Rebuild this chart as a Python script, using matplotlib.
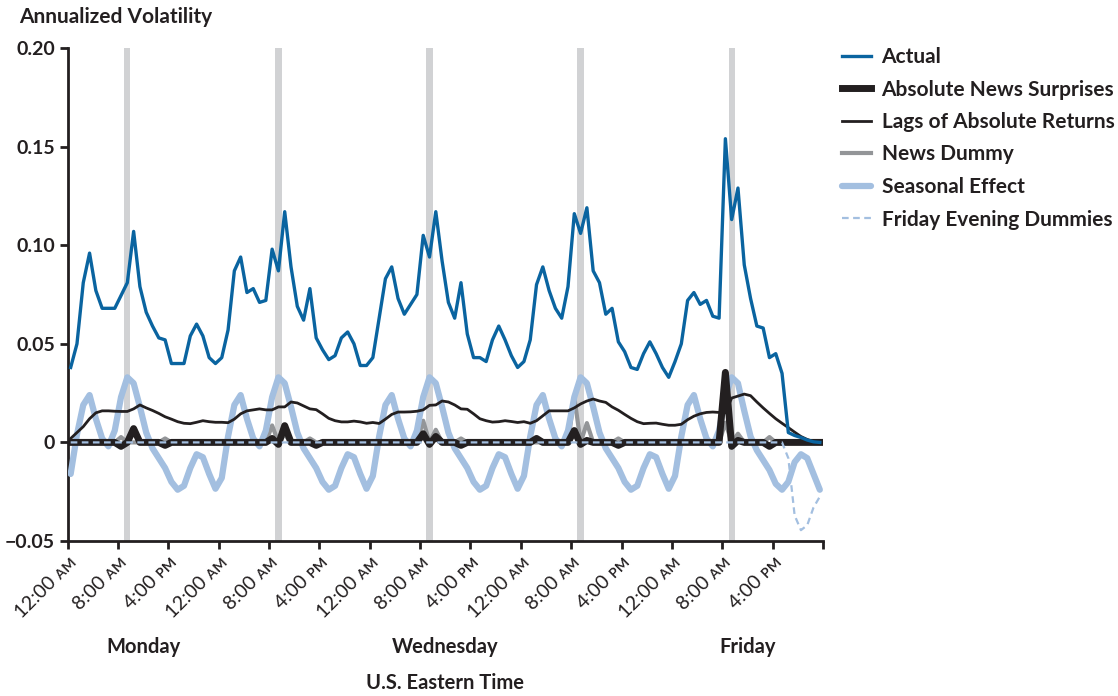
import numpy as np
import matplotlib
matplotlib.use('Agg')
import matplotlib.pyplot as plt

plt.rcParams['font.family'] = ['Lato', 'DejaVu Sans']

# hourly midpoints, Monday 00:00 to Friday 24:00
hours = np.arange(120) + 0.5

actual = [
    0.038, 0.050, 0.081, 0.096, 0.077, 0.068, 0.068, 0.068, 0.0745, 0.081, 0.107, 0.079,
    0.066, 0.059, 0.053, 0.052, 0.040, 0.040, 0.040, 0.054, 0.060, 0.054, 0.043, 0.040,
    0.043, 0.057, 0.087, 0.094, 0.076, 0.078, 0.071, 0.072, 0.098, 0.087, 0.117, 0.089,
    0.069, 0.062, 0.078, 0.053, 0.047, 0.042, 0.044, 0.053, 0.056, 0.050, 0.039, 0.039,
    0.043, 0.063, 0.083, 0.089, 0.073, 0.065, 0.070, 0.075, 0.105, 0.094, 0.117, 0.092,
    0.071, 0.063, 0.081, 0.055, 0.043, 0.043, 0.041, 0.052, 0.059, 0.052, 0.044, 0.038,
    0.041, 0.052, 0.080, 0.089, 0.077, 0.068, 0.063, 0.079, 0.116, 0.106, 0.119, 0.087,
    0.081, 0.065, 0.068, 0.051, 0.046, 0.038, 0.037, 0.045, 0.051, 0.045, 0.038, 0.033,
    0.041, 0.050, 0.072, 0.076, 0.070, 0.072, 0.064, 0.063, 0.154, 0.113, 0.129, 0.090,
    0.073, 0.059, 0.058, 0.043, 0.045, 0.035, 0.005, 0.0035, 0.0025, 0.0012, 0.0003, 0.0,
]

news_surprises = [
    0, 0, 0, 0, 0, 0, 0, 0, -0.002, 0, 0.007, 0,
    0, 0, 0, -0.0015, 0, 0, 0, 0, 0, 0, 0, 0,
    0, 0, 0, 0, 0, 0, 0, 0, 0.002, -0.001, 0.0085, 0,
    0, 0, 0, -0.0015, 0, 0, 0, 0, 0, 0, 0, 0,
    0, 0, 0, 0, 0, 0, 0, 0, 0.0044, -0.001, 0.003, 0,
    0, 0, -0.0015, 0, 0, 0, 0, 0, 0, 0, 0, 0,
    0, 0, 0.002, 0, 0, 0, 0, 0, 0.006, -0.001, 0.001, 0,
    0, 0, 0, -0.0015, 0, 0, 0, 0, 0, 0, 0, 0,
    0, 0, 0, 0, 0, 0, 0, 0, 0.0355, -0.002, 0.001, 0,
    0, 0, 0, -0.002, 0, 0, 0, 0, 0, 0, 0, 0,
]

lags = [
    0.002, 0.005, 0.008, 0.012, 0.015, 0.016, 0.016, 0.0158, 0.0157, 0.0157, 0.017, 0.019,
    0.0175, 0.0162, 0.0147, 0.013, 0.0118, 0.0105, 0.0097, 0.0095, 0.0102, 0.011, 0.0105, 0.0102,
    0.0102, 0.0100, 0.0118, 0.0145, 0.016, 0.0165, 0.017, 0.0165, 0.0165, 0.018, 0.018, 0.0205,
    0.020, 0.0185, 0.017, 0.0166, 0.0145, 0.0122, 0.011, 0.0104, 0.0104, 0.0108, 0.0104, 0.0097,
    0.0101, 0.0096, 0.0118, 0.0142, 0.0154, 0.0154, 0.0155, 0.0158, 0.0165, 0.0188, 0.019, 0.021,
    0.0205, 0.019, 0.017, 0.0168, 0.0145, 0.012, 0.011, 0.0103, 0.0105, 0.011, 0.0106, 0.0101,
    0.0105, 0.0097, 0.011, 0.0135, 0.016, 0.016, 0.016, 0.016, 0.0175, 0.0195, 0.021, 0.022,
    0.021, 0.0203, 0.018, 0.0163, 0.0142, 0.0122, 0.0105, 0.0095, 0.0097, 0.0098, 0.0092, 0.0087,
    0.0087, 0.0092, 0.0115, 0.0133, 0.0145, 0.0152, 0.0154, 0.0152, 0.015, 0.0225, 0.0235, 0.0245,
    0.0237, 0.0205, 0.0175, 0.0147, 0.012, 0.0097, 0.0075, 0.0052, 0.003, 0.0015, 0.0005, 0.0,
]

news_dummy = [
    0, 0, 0, 0, 0, 0, 0, 0, 0.0027, 0, 0, 0,
    0, 0, 0, 0.002, 0, 0, 0, 0, 0, 0, 0, 0,
    0, 0, 0, 0, 0, 0, 0, 0, 0.0086, 0, 0.004, 0,
    0, 0, 0.002, 0, 0, 0, 0, 0, 0, 0, 0, 0,
    0, 0, 0, 0, 0, 0, 0, 0, 0.011, 0, 0.0064, 0,
    0, 0, 0.002, 0, 0, 0, 0, 0, 0, 0, 0, 0,
    0, 0, 0, 0, 0, 0, 0, 0, 0.023, 0, 0.0098, 0,
    0, 0, 0, 0.002, 0, 0, 0, 0, 0, 0, 0, 0,
    0, 0, 0, 0, 0, 0, 0, 0, 0.010, 0, 0.0044, 0,
    0, 0, 0, 0.0027, 0, 0, 0, 0, 0, 0, 0, 0,
]

seasonal = [
    -0.016, 0.004, 0.019, 0.024, 0.012, 0.002, -0.002, 0.006, 0.023, 0.033, 0.030, 0.018,
    0.005, -0.003, -0.008, -0.013, -0.020, -0.024, -0.022, -0.013, -0.006, -0.0075, -0.016, -0.0235,
    -0.018, 0.003, 0.019, 0.024, 0.012, 0.002, -0.002, 0.006, 0.023, 0.033, 0.030, 0.018,
    0.005, -0.003, -0.008, -0.013, -0.020, -0.024, -0.022, -0.013, -0.006, -0.0075, -0.016, -0.0235,
    -0.017, 0.003, 0.019, 0.024, 0.012, 0.002, -0.002, 0.006, 0.023, 0.033, 0.030, 0.018,
    0.005, -0.003, -0.008, -0.013, -0.020, -0.024, -0.022, -0.013, -0.006, -0.0075, -0.016, -0.0235,
    -0.017, 0.003, 0.019, 0.024, 0.012, 0.002, -0.002, 0.006, 0.023, 0.033, 0.030, 0.018,
    0.005, -0.003, -0.008, -0.013, -0.020, -0.024, -0.022, -0.013, -0.006, -0.0075, -0.016, -0.0235,
    -0.017, 0.003, 0.019, 0.024, 0.012, 0.002, -0.002, 0.006, 0.023, 0.033, 0.030, 0.016,
    0.003, -0.004, -0.009, -0.014, -0.021, -0.024, -0.020, -0.010, -0.006, -0.008, -0.016, -0.024,
]

friday_dummies = [0.0] * 114 + [-0.008, -0.037, -0.0445, -0.042, -0.033, -0.0275]

# gray bands, 9:00 to 10:00 each day
band_starts = [9, 33, 57, 81, 105]

tick_hours = list(range(0, 121, 8))
tick_labels = ['12:00 ᴀᴍ', '8:00 ᴀᴍ', '4:00 ᴘᴍ'] * 5 + ['']
day_names = ['Monday', 'Wednesday', 'Friday']
day_mid = [12, 60, 108]

ink = '#231f20'
fig = plt.figure(figsize=(11.18, 6.96), dpi=100)
ax = fig.add_axes([0.0604, 0.2227, 0.6757, 0.7083])

for b in band_starts:
    ax.axvspan(b, b + 1, color='#d1d2d4', lw=0, zorder=1)

ax.plot(hours, news_dummy, color='#939598', lw=3, zorder=2, label='News Dummy')
ax.plot(hours, seasonal, color='#a3bfe0', lw=4.5, zorder=3, solid_capstyle='round',
        label='Seasonal Effect')
ax.plot(hours, news_surprises, color=ink, lw=5, zorder=4, label='Absolute News Surprises')
ax.plot(hours, lags, color=ink, lw=2, zorder=5, label='Lags of Absolute Returns')
ax.plot(hours, friday_dummies, color='#a3bfe0', lw=1.6, ls=(0, (3, 2)), zorder=6,
        label='Friday Evening Dummies')
ax.plot(hours, actual, color='#0a64a0', lw=2.4, zorder=7, label='Actual')

ax.set_xlim(0, 120)
ax.set_ylim(-0.05, 0.20)
ax.set_yticks([-0.05, 0, 0.05, 0.10, 0.15, 0.20])
ax.set_yticklabels(['\u22120.05', '0', '0.05', '0.10', '0.15', '0.20'],
                   fontsize=14, fontweight='bold', color=ink)
ax.set_xticks(tick_hours)
ax.set_xticklabels(tick_labels, rotation=45, ha='right', rotation_mode='anchor',
                   fontsize=14, color=ink)
ax.tick_params(axis='both', direction='out', length=6, width=2, color=ink, pad=3)
for s in ['top', 'right']:
    ax.spines[s].set_visible(False)
for s in ['left', 'bottom']:
    ax.spines[s].set_linewidth(2)
    ax.spines[s].set_color(ink)

for name, mid in zip(day_names, day_mid):
    ax.text(mid, -0.215, name, transform=ax.get_xaxis_transform(), ha='center',
            va='center', fontsize=14.5, fontweight='bold', color=ink)
fig.text(445 / 1118, 1 - 683 / 696, 'U.S. Eastern Time', ha='center', va='center',
         fontsize=14.5, fontweight='bold', color=ink)
fig.text(19 / 1118, 1 - 17 / 696, 'Annualized Volatility', ha='left', va='center',
         fontsize=15, fontweight='bold', color=ink)

order = ['Actual', 'Absolute News Surprises', 'Lags of Absolute Returns', 'News Dummy',
         'Seasonal Effect', 'Friday Evening Dummies']
handles, labels = ax.get_legend_handles_labels()
lookup = dict(zip(labels, handles))
leg = fig.legend([lookup[k] for k in order], order, loc='upper left',
                 bbox_to_anchor=(842 / 1118, 1 - 47 / 696), frameon=False,
                 fontsize=15, handlelength=1.4, handletextpad=0.5, labelspacing=0.6,
                 borderaxespad=0, borderpad=0)
for t in leg.get_texts():
    t.set_color(ink)
    t.set_fontweight('bold')

fig.savefig('out.png', dpi=100)
